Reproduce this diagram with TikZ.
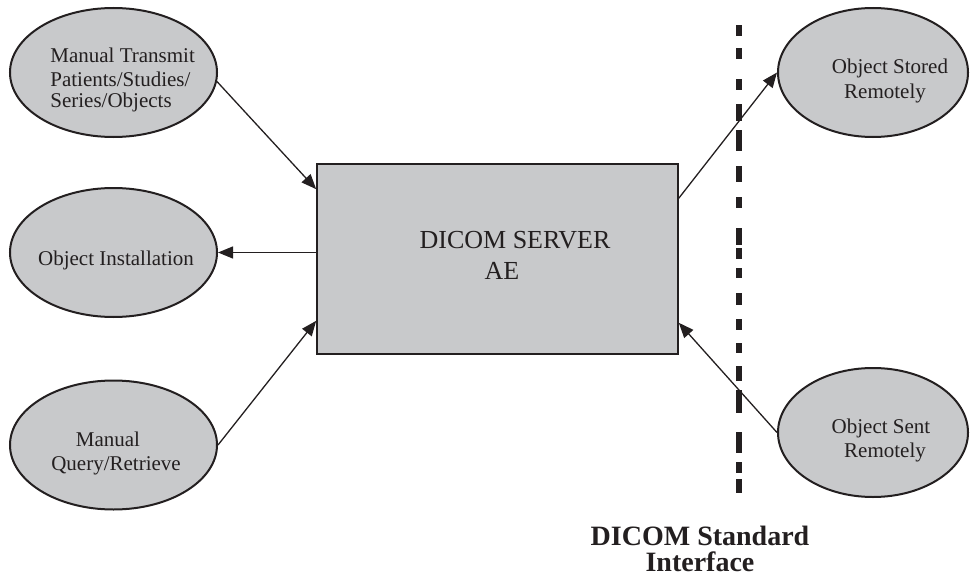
\documentclass[tikz,border=0pt]{standalone}
\usepackage{fontspec}
\setmainfont{Liberation Serif}
\usetikzlibrary{shapes.geometric,arrows.meta,calc}
\definecolor{ink}{HTML}{231F20}
\definecolor{boxgray}{HTML}{C8C9CB}
\begin{document}
\begin{tikzpicture}[x=0.5pt,y=-0.5pt,
  bubble/.style={ellipse,draw=ink,fill=boxgray,line width=1pt,minimum width=103.5pt,minimum height=64.5pt,inner sep=0pt},
  server/.style={rectangle,draw=ink,fill=boxgray,line width=0.8pt,minimum width=180.5pt,minimum height=95pt,inner sep=0pt},
  lbl/.style={text=ink,font=\fontsize{10.5}{12}\selectfont,inner sep=0pt,anchor=base},
  biglbl/.style={lbl,font=\fontsize{13}{15}\selectfont},
  stdlbl/.style={lbl,font=\bfseries\fontsize{14}{16}\selectfont},
  arr/.style={draw=ink,line width=0.65pt,-{Triangle[length=7.5pt,width=6pt]}},
  border/.style={draw=ink,line width=3pt,dash pattern=on 5.5pt off 6pt on 5.5pt off 10pt on 5.5pt off 7pt on 8.5pt off 4.5pt on 10.5pt off 7.5pt on 8pt off 7.5pt on 5.5pt off 10pt on 8.5pt off 1.5pt on 5.5pt off 4.5pt on 5pt off 7.5pt on 6pt off 7pt on 5.5pt off 6.5pt on 5pt off 6.5pt on 7.5pt off 4.5pt on 11.5pt off 9.5pt on 10.5pt off 4.5pt on 5.5pt off 3pt on 7pt off 20pt}
]
\useasboundingbox (0,0) rectangle (975,578);
% nodes
\node[server] (box) at (497.5,259) {};
\node[bubble] (e1) at (113.5,72.5) {};
\node[bubble] (e2) at (113.5,252.5) {};
\node[bubble] (e3) at (113.5,445) {};
\node[bubble,minimum width=95pt] (e4) at (873,72.5) {};
\node[bubble,minimum width=95pt] (e5) at (873,432.5) {};
% texts
\node[lbl,anchor=base west] (t1a) at (50,62) {Manual Transmit};
\node[lbl,anchor=base west] (t1b) at (50,86) {Patients/Studies/};
\node[lbl,anchor=base west] (t1c) at (50,107) {Series/Objects};
\node[lbl] (t2) at (116,265) {Object Installation};
\node[lbl] (t3a) at (108,446) {Manual};
\node[lbl] (t3b) at (116,470) {Query/Retrieve};
\node[lbl] (t4a) at (890,73) {Object Stored};
\node[lbl] (t4b) at (885,98) {Remotely};
\node[lbl] (t5a) at (881,433) {Object Sent};
\node[lbl] (t5b) at (885,457) {Remotely};
\node[biglbl] (srv1) at (515,248) {DICOM SERVER};
\node[biglbl] (srv2) at (502,279) {AE};
\node[stdlbl] (std1) at (700,545) {DICOM Standard};
\node[stdlbl] (std2) at (700,571) {Interface};
% boundary
\coordinate (dtop) at (739,25);
\coordinate (dbot) at (739,493);
\draw[border] (dtop) -- (dbot);
% connectors
\draw[arr] (e1.-5) -- ($(box.north west)+(0,26)$);
\draw[arr] (box.west |- e2.east) -- (e2.east);
\draw[arr] (e3.east) -- ($(box.south west)+(0,-34)$);
\draw[arr] ($(box.north east)+(0,35)$) -- (e4.west);
\draw[arr] (e5.west) -- ($(box.south east)+(0,-32)$);
\end{tikzpicture}
\end{document}
